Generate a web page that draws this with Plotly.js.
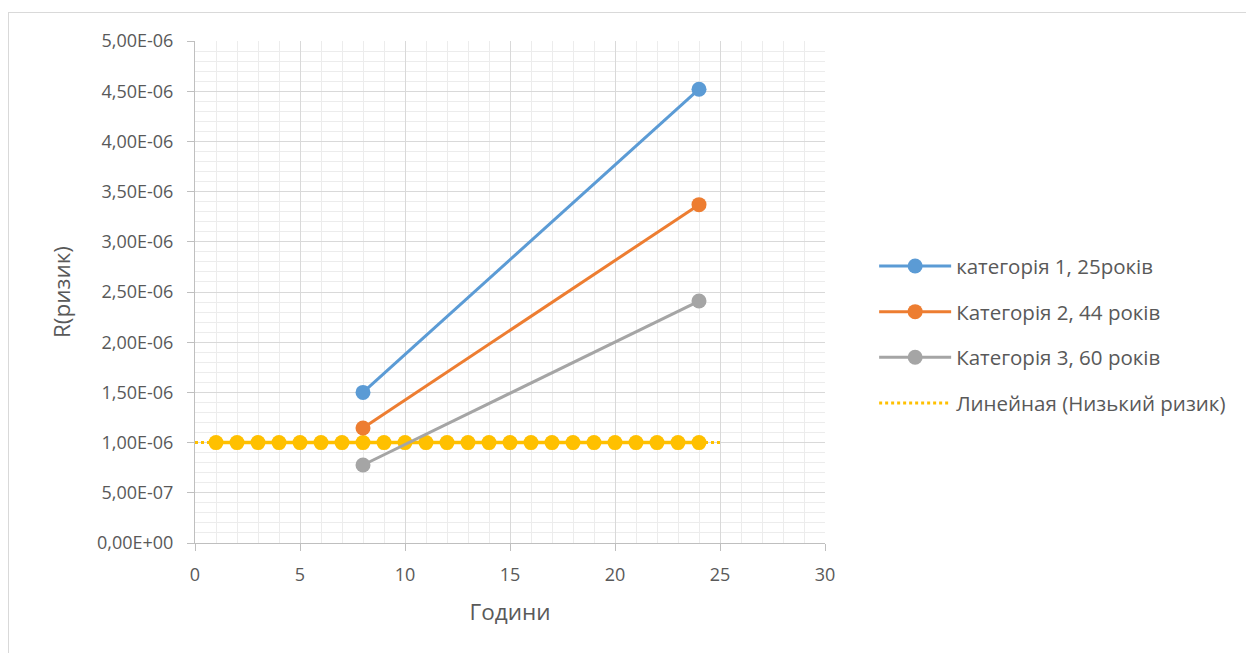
<!DOCTYPE html>
<html>
<head>
<meta charset="utf-8">
<script src="https://cdn.plot.ly/plotly-3.0.1.min.js"></script>
<style>
  html, body { margin: 0; padding: 0; background: #fff; overflow: hidden; }
  #frame { position: absolute; left: 8px; top: 12px; width: 1400px; height: 800px;
           border: 1px solid #d9d9d9; box-sizing: border-box; pointer-events: none; }
  #chart { position: absolute; left: 0; top: 0; width: 1246px; height: 653px; }
</style>
</head>
<body>
<div id="chart"></div>
<div id="frame"></div>
<script>
// Hours of exposure and the risk values for each age category
const hours = [8, 24];
const cat1Risk = [1.50e-6, 4.52e-6];
const cat2Risk = [1.145e-6, 3.37e-6];
const cat3Risk = [0.777e-6, 2.41e-6];

// Low-risk reference level, sampled every hour
const lowHours = [1, 2, 3, 4, 5, 6, 7, 8, 9, 10, 11, 12, 13, 14, 15, 16, 17, 18, 19, 20, 21, 22, 23, 24];
const lowRisk = [1e-6, 1e-6, 1e-6, 1e-6, 1e-6, 1e-6, 1e-6, 1e-6, 1e-6, 1e-6, 1e-6, 1e-6,
                 1e-6, 1e-6, 1e-6, 1e-6, 1e-6, 1e-6, 1e-6, 1e-6, 1e-6, 1e-6, 1e-6, 1e-6];

// Series names
const seriesNames = ["категорія 1, 25років", "Категорія 2, 44 років", "Категорія 3, 60 років"];
const trendName = "Линейная (Низький ризик)";

// Axis ticks
const yTickVals = [0, 5e-7, 1e-6, 1.5e-6, 2e-6, 2.5e-6, 3e-6, 3.5e-6, 4e-6, 4.5e-6, 5e-6];
const yTickText = ["0,00E+00", "5,00E-07", "1,00E-06", "1,50E-06", "2,00E-06", "2,50E-06",
                   "3,00E-06", "3,50E-06", "4,00E-06", "4,50E-06", "5,00E-06"];

// Linear trendline of the low-risk series, extended one hour each way
const forecastBack = 1, forecastFwd = 1;
function linearFit(xs, ys) {
  const n = xs.length;
  const mx = xs.reduce((a, b) => a + b, 0) / n;
  const my = ys.reduce((a, b) => a + b, 0) / n;
  let sxy = 0, sxx = 0;
  for (let i = 0; i < n; i++) { sxy += (xs[i] - mx) * (ys[i] - my); sxx += (xs[i] - mx) ** 2; }
  const slope = sxx ? sxy / sxx : 0;
  return { slope, intercept: my - slope * mx };
}
const fit = linearFit(lowHours, lowRisk);
const trendX = [Math.min(...lowHours) - forecastBack, Math.max(...lowHours) + forecastFwd];
const trendY = trendX.map(x => fit.intercept + fit.slope * x);

const colors = ["#5b9bd5", "#ed7d31", "#a5a5a5", "#ffc000"];
const fontFamily = "'Open Sans', 'Liberation Sans', sans-serif";
const textColor = "#595959";

const traces = [
  {
    x: lowHours, y: lowRisk, type: "scatter", mode: "lines+markers", name: "Низький ризик",
    showlegend: false, hoverinfo: "skip",
    line: { color: colors[3], width: 3.5 },
    marker: { color: colors[3], size: 15 }
  },
  {
    x: trendX, y: trendY, type: "scatter", mode: "lines", name: trendName,
    legendgroup: "g4", legendrank: 4,
    line: { color: colors[3], width: 3, dash: "dot" }
  },
  {
    x: hours, y: cat3Risk, type: "scatter", mode: "lines+markers", name: seriesNames[2],
    legendgroup: "g3", legendrank: 3,
    line: { color: colors[2], width: 3 }, marker: { color: colors[2], size: 15 }
  },
  {
    x: hours, y: cat2Risk, type: "scatter", mode: "lines+markers", name: seriesNames[1],
    legendgroup: "g2", legendrank: 2,
    line: { color: colors[1], width: 3 }, marker: { color: colors[1], size: 15 }
  },
  {
    x: hours, y: cat1Risk, type: "scatter", mode: "lines+markers", name: seriesNames[0],
    legendgroup: "g1", legendrank: 1,
    line: { color: colors[0], width: 3 }, marker: { color: colors[0], size: 15 }
  }
];

const layout = {
  width: 1246, height: 653,
  paper_bgcolor: "rgba(0,0,0,0)", plot_bgcolor: "#fff",
  margin: { l: 195, r: 421, t: 41, b: 110 },
  font: { family: fontFamily, color: textColor, size: 18 },
  showlegend: true,
  legend: {
    x: 1.078, xanchor: "left", y: 0.415, yanchor: "middle",
    font: { family: fontFamily, size: 20.5, color: textColor },
    tracegroupgap: 16, itemwidth: 72, traceorder: "grouped",
    bgcolor: "rgba(0,0,0,0)"
  },
  xaxis: {
    range: [0, 30], tickmode: "linear", tick0: 0, dtick: 5,
    showline: true, linecolor: "#bfbfbf", linewidth: 1,
    ticks: "outside", ticklen: 7, tickcolor: "#bfbfbf", ticklabelstandoff: 8,
    showgrid: true, gridcolor: "#d9d9d9", gridwidth: 1, zeroline: false,
    minor: { dtick: 1, showgrid: true, gridcolor: "#ececec", gridwidth: 1, ticks: "" },
    tickfont: { size: 18, color: textColor },
    title: { text: "Години", font: { size: 22.5, color: textColor }, standoff: 19 }
  },
  yaxis: {
    range: [0, 5e-6], tickmode: "array", tickvals: yTickVals, ticktext: yTickText,
    showline: true, linecolor: "#bfbfbf", linewidth: 1,
    ticks: "outside", ticklen: 7, tickcolor: "#bfbfbf", ticklabelstandoff: 10,
    showgrid: true, gridcolor: "#d9d9d9", gridwidth: 1, zeroline: false,
    minor: { dtick: 1e-7, showgrid: true, gridcolor: "#ececec", gridwidth: 1, ticks: "" },
    tickfont: { size: 18, color: textColor },
    title: { text: "R(ризик)", font: { size: 22.5, color: textColor }, standoff: 20 }
  },
  hovermode: false
};

Plotly.newPlot("chart", traces, layout, { displayModeBar: false, staticPlot: true });
</script>
</body>
</html>
